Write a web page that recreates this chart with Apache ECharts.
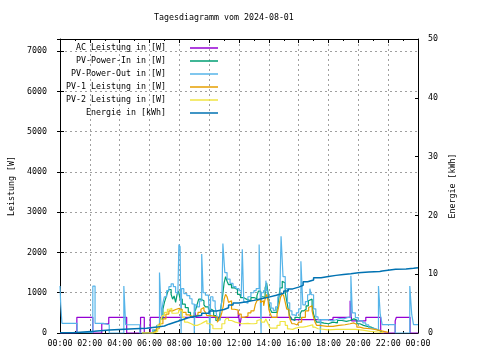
<!DOCTYPE html>
<html><head><meta charset="utf-8">
<script src="https://cdn.jsdelivr.net/npm/echarts@6/dist/echarts.min.js"></script>
<style>html,body{margin:0;padding:0;background:#fff}#c{width:480px;height:360px}</style>
</head><body><div id="c"></div>
<script>
// ---- data (hours of day, values) ----
const titleText = 'Tagesdiagramm vom 2024-08-01';
const seriesNames = ['AC Leistung in [W]','PV-Power-In in [W]','PV-Power-Out in [W]','PV-1 Leistung in [W]','PV-2 Leistung in [W]','Energie in [kWh]'];
const seriesColors = ['#9400d3','#009e73','#56b4e9','#e69f00','#f0e442','#0072b2'];

const acHours = [0,1.13,2.2,2.8,3.27,4.47,5.4,5.65,6.05,9.05,9.12,11.95,12.05,12.15,15.5,18.3,19.45,19.55,20.5,21.5,22.47,22.55,23.47,24];
const acWatts = [0,390,0,230,390,0,390,0,390,520,390,550,170,390,330,390,800,300,390,0,300,390,0,0];

const inHours = [5.5,6.0,6.3,6.5,6.7,6.9,7.0,7.1,7.2,7.3,7.45,7.55,7.65,7.75,7.85,7.95,8.05,8.2,8.4,8.6,8.75,8.85,9.0,9.1,9.2,9.3,9.45,9.55,9.65,9.75,9.95,10.15,10.3,10.45,10.6,10.7,10.8,10.9,11.0,11.1,11.2,11.3,11.5,11.7,11.9,12.1,12.3,12.5,12.8,13.0,13.2,13.3,13.45,13.6,13.75,13.85,13.95,14.0,14.1,14.2,14.35,14.45,14.55,14.65,14.75,14.9,15.0,15.1,15.2,15.3,15.4,15.5,15.6,15.75,15.9,16.0,16.1,16.2,16.35,16.5,16.65,16.78,16.9,17.0,17.1,17.2,17.4,17.7,18.0,18.3,18.6,18.9,19.2,19.45,19.7,19.9,20.1,20.35,20.6,20.85,21.1,21.4,21.6];
const inWatts = [0,0,65,190,350,590,760,880,1000,1080,960,840,920,760,960,1040,840,715,630,510,390,430,510,590,715,840,880,800,700,650,590,550,430,310,330,430,675,920,1240,1400,1285,1200,1120,1080,960,880,840,800,880,850,920,1040,900,880,1120,1245,1000,760,590,510,470,510,590,800,1120,1285,1240,1000,800,590,430,350,310,390,350,370,470,550,590,675,800,840,675,470,350,270,245,230,270,250,310,290,310,350,320,230,190,165,145,105,65,25,0];

const outHours = [0,0.05,0.13,1.15,2.2,2.35,2.9,3.3,4.28,4.4,5.35,6.2,6.5,6.67,6.8,6.9,7.0,7.15,7.3,7.45,7.6,7.75,7.9,7.97,8.05,8.12,8.15,8.3,8.5,8.7,8.85,9.0,9.05,9.2,9.35,9.5,9.6,9.75,9.95,10.05,10.1,10.25,10.4,10.5,10.6,10.75,10.85,10.92,11.05,11.2,11.4,11.6,11.8,12.0,12.15,12.22,12.32,12.45,12.6,12.8,13.0,13.15,13.35,13.48,13.5,13.65,13.8,13.9,14.0,14.15,14.3,14.45,14.6,14.75,14.82,14.95,15.1,15.25,15.4,15.55,15.7,15.85,16.0,16.15,16.28,16.45,16.6,16.75,16.85,17.0,17.15,17.3,17.45,17.5,17.75,18.0,18.2,18.5,18.75,19.0,19.25,19.5,19.6,19.8,20.0,20.3,20.5,20.7,21.0,21.35,21.47,21.6,22.47,23.45,23.58,23.7,24];
const outWatts = [1166,700,240,10,1166,240,205,0,1166,205,0,80,180,1500,420,750,900,1050,1150,1220,1150,1000,950,2200,2140,0,1100,980,930,850,720,0,700,650,800,1960,1000,940,920,0,900,800,650,450,320,500,800,2220,1500,1340,1230,1150,1100,1050,900,2080,780,740,900,1000,1050,1100,2200,0,1000,1050,1300,1000,750,620,560,650,900,1200,2400,1400,1100,750,550,450,430,500,600,1780,700,780,950,1100,950,600,400,330,0,330,330,300,330,360,350,380,400,1420,500,380,300,250,200,120,80,1166,460,210,0,1166,460,210,210];

const pv1Hours = [5.5,6.0,6.2,6.45,6.65,6.9,7.1,7.3,7.55,7.8,8.0,8.2,8.45,8.65,8.85,9.05,9.25,9.45,9.55,9.65,9.75,9.85,10.1,10.3,10.55,10.65,10.75,10.85,10.95,11.0,11.1,11.2,11.3,11.4,11.5,11.7,11.95,12.15,12.35,12.6,12.8,13.0,13.1,13.2,13.33,13.45,13.55,13.65,13.75,13.85,13.95,14.0,14.1,14.2,14.35,14.45,14.55,14.65,14.78,14.9,15.0,15.1,15.2,15.35,15.45,15.55,15.7,15.9,16.0,16.2,16.45,16.67,16.78,16.9,17.0,17.1,17.2,17.4,17.9,18.3,18.7,19.1,19.45,19.7,19.9,20.1,20.35,20.8,21.1,21.4,21.7,22.0];
const pv1Watts = [0,0,40,105,230,350,470,550,590,610,580,510,450,415,415,450,510,590,635,560,510,430,420,390,270,330,390,510,675,840,960,900,760,800,590,570,470,390,420,500,550,590,715,800,840,760,800,675,840,960,800,590,470,390,350,390,470,635,880,975,920,760,590,430,310,230,200,230,270,390,550,635,675,550,390,270,190,165,165,190,205,230,250,210,145,120,105,90,65,40,15,0];

const pv2Hours = [5.5,6.0,6.3,6.55,6.75,6.85,7.0,7.2,7.35,7.5,7.75,7.95,8.05,8.2,8.35,8.55,8.8,9.0,9.2,9.45,9.65,9.85,10.05,10.25,10.55,10.65,10.85,11.05,11.15,11.3,11.5,11.75,12.2,12.6,12.8,13.0,13.2,13.33,13.5,13.7,13.8,13.9,14.0,14.1,14.25,14.35,14.55,14.75,14.9,15.0,15.1,15.25,15.4,15.6,15.8,16.1,16.3,16.55,16.8,16.95,17.1,17.3,18.0,18.5,19.0,19.4,19.8,20.3,20.8,21.3,21.7];
const pv2Watts = [0,0,40,190,310,430,510,590,610,490,500,560,550,390,270,230,190,190,230,270,310,230,190,105,65,105,230,310,365,310,270,230,240,230,230,240,310,335,270,280,350,270,190,120,105,120,190,285,310,280,190,100,90,120,145,145,165,190,205,145,105,80,90,90,90,90,70,40,25,10,0];

const enHours = [0,0.87,2.3,3.3,5.0,5.8,6.5,7.0,7.3,7.6,7.9,8.25,8.6,9.0,9.5,10.0,10.5,11.0,11.3,11.6,12.0,12.5,13.0,13.5,14.0,14.5,15.0,15.3,15.6,16.0,16.3,16.6,17.0,17.5,18.0,18.5,19.0,19.5,20.0,20.7,21.44,21.6,22.5,23.2,23.7,24];
const enKwh = [0.05,0.29,0.51,0.73,0.8,1.0,1.19,1.5,1.75,2.0,2.3,2.6,2.8,3.0,3.35,3.74,4.0,4.3,4.75,5.1,5.3,5.55,5.83,6.1,6.41,6.75,7.14,7.5,7.8,8.1,8.7,9.0,9.4,9.6,9.8,9.95,10.09,10.25,10.37,10.45,10.54,10.83,10.9,11.0,11.1,11.17];

// ---- chart ----
const FONT = 'DejaVu Sans Mono';
const FS = 8.3;
const pairs = (xs, ys) => xs.map((x, i) => [x, ys[i]]);
const seriesData = [pairs(acHours, acWatts), pairs(inHours, inWatts), pairs(outHours, outWatts), pairs(pv1Hours, pv1Watts), pairs(pv2Hours, pv2Watts), pairs(enHours, enKwh)];
const legendRows = [44, 57, 70, 83, 96, 109];

const chart = echarts.init(document.getElementById('c'), null, {renderer: 'canvas'});
const hh = v => { const h = Math.round(v) % 24; return (h < 10 ? '0' : '') + h + ':00'; };
const plain = v => String(v);
const grid = {type: [2, 3], color: '#a0a0a0', width: 1};

chart.setOption({
  animation: false,
  backgroundColor: '#fff',
  textStyle: {fontFamily: FONT, fontSize: FS, color: '#000'},
  title: {text: titleText, left: 154, top: 14, padding: 0,
    textStyle: {fontFamily: FONT, fontSize: FS, fontWeight: 'normal', color: '#000'}},
  legend: seriesNames.map((n, i) => ({
    data: [n], right: 262, top: legendRows[i], orient: 'vertical', align: 'right', padding: 0,
    itemWidth: 28, itemHeight: 1.5, icon: 'rect', selectedMode: false,
    textStyle: {fontFamily: FONT, fontSize: FS, color: '#000', padding: [0, 19, 0, 0]}
  })),
  grid: {left: 58, right: 62, top: 39, bottom: 27, containLabel: false},
  xAxis: [
    {type: 'value', min: 0, max: 24, interval: 2, position: 'bottom',
      axisLine: {show: true, onZero: false, lineStyle: {color: '#000', width: 1}},
      axisTick: {show: true, inside: true, length: 4, lineStyle: {color: '#000'}},
      minorTick: {show: true, splitNumber: 2, length: 2, lineStyle: {color: '#000'}},
      splitLine: {show: true, lineStyle: grid},
      axisLabel: {formatter: hh, margin: 7, fontFamily: FONT, fontSize: FS, color: '#000'}},
    {type: 'value', min: 0, max: 24, interval: 2, position: 'top',
      axisLine: {show: true, onZero: false, lineStyle: {color: '#000', width: 1}},
      axisTick: {show: true, inside: true, length: 4, lineStyle: {color: '#000'}},
      minorTick: {show: true, splitNumber: 2, length: 2, lineStyle: {color: '#000'}},
      splitLine: {show: false}, axisLabel: {show: false}}
  ],
  yAxis: [
    {type: 'value', min: 0, max: 7300, interval: 1000, position: 'left',
      name: 'Leistung [W]', nameLocation: 'middle', nameGap: 44, nameRotate: 90,
      nameTextStyle: {fontFamily: FONT, fontSize: FS, color: '#000'},
      axisLine: {show: true, onZero: false, lineStyle: {color: '#000', width: 1}},
      axisTick: {show: true, inside: true, length: 4, lineStyle: {color: '#000'}},
      splitLine: {show: true, lineStyle: grid},
      axisLabel: {formatter: plain, margin: 13, showMaxLabel: false, fontFamily: FONT, fontSize: FS, color: '#000'}},
    {type: 'value', min: 0, max: 50, interval: 10, position: 'right',
      name: 'Energie [kWh]', nameLocation: 'middle', nameGap: 30, nameRotate: 90,
      nameTextStyle: {fontFamily: FONT, fontSize: FS, color: '#000'},
      axisLine: {show: true, onZero: false, lineStyle: {color: '#000', width: 1}},
      axisTick: {show: true, inside: true, length: 3, lineStyle: {color: '#000'}},
      splitLine: {show: false},
      axisLabel: {formatter: plain, margin: 10, fontFamily: FONT, fontSize: FS, color: '#000'}},
    {type: 'value', min: 0, max: 7300, interval: 1000, position: 'right',
      axisLine: {show: false},
      axisTick: {show: true, inside: true, length: 3, lineStyle: {color: '#000'}},
      splitLine: {show: false}, axisLabel: {show: false}}
  ],
  series: seriesNames.map((n, i) => ({
    name: n, type: 'line', step: 'end', showSymbol: false, symbol: 'none',
    xAxisIndex: 0, yAxisIndex: i === 5 ? 1 : 0,
    data: seriesData[i],
    lineStyle: {color: seriesColors[i], width: i === 5 ? 1.5 : 1.2},
    itemStyle: {color: seriesColors[i]},
    z: 2 + i
  }))
});
</script></body></html>
